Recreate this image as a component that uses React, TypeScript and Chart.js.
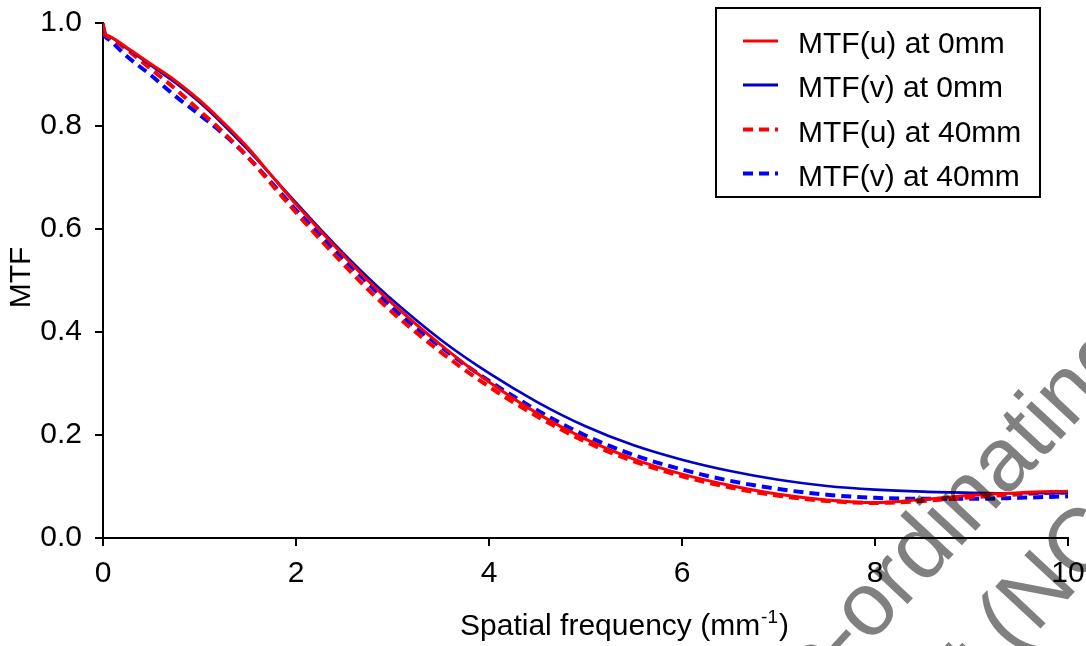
import React, { useEffect, useRef } from 'react';
import { Chart, registerables } from 'chart.js';

Chart.register(...registerables);

const FONT = "'Liberation Sans', Arial, sans-serif";

const frequencies = [0, 0.03, 0.06, 0.25, 0.5, 0.75, 1, 1.25, 1.5, 1.75, 2, 2.25, 2.5, 2.75, 3, 3.5, 4, 4.5, 5, 5.5, 6, 6.5, 7, 7.5, 8, 8.5, 9, 9.5, 10];

const mtfU0 = [1.0, 0.978, 0.975, 0.952, 0.92, 0.888, 0.85, 0.806, 0.758, 0.703, 0.648, 0.597, 0.547, 0.499, 0.455, 0.375, 0.303, 0.242, 0.192, 0.153, 0.124, 0.102, 0.085, 0.074, 0.069, 0.075, 0.083, 0.088, 0.091];
const mtfV0 = [1.0, 0.977, 0.974, 0.95, 0.917, 0.884, 0.846, 0.802, 0.754, 0.703, 0.651, 0.6, 0.551, 0.505, 0.462, 0.385, 0.32, 0.264, 0.217, 0.18, 0.152, 0.13, 0.113, 0.101, 0.094, 0.09, 0.088, 0.087, 0.087];
const mtfU40 = [0.98, 0.976, 0.973, 0.948, 0.91, 0.872, 0.83, 0.787, 0.74, 0.686, 0.632, 0.58, 0.53, 0.482, 0.438, 0.361, 0.294, 0.236, 0.187, 0.149, 0.12, 0.098, 0.082, 0.072, 0.068, 0.072, 0.079, 0.085, 0.089];
const mtfV40 = [0.98, 0.972, 0.968, 0.935, 0.898, 0.858, 0.822, 0.784, 0.74, 0.689, 0.637, 0.589, 0.54, 0.494, 0.447, 0.371, 0.305, 0.248, 0.199, 0.161, 0.133, 0.111, 0.095, 0.084, 0.078, 0.076, 0.076, 0.078, 0.081];

const seriesLabels = ['MTF(u) at 0mm', 'MTF(v) at 0mm', 'MTF(u) at 40mm', 'MTF(v) at 40mm'];
const seriesColors = ['#ff0000', '#0000c8', '#ff0000', '#0000ff'];
const seriesDashed = [false, false, true, true];
const seriesWidths = [3, 2.6, 4, 4];
const seriesValues = [mtfU0, mtfV0, mtfU40, mtfV40];

const xTitle = 'Spatial frequency (mm';
const xTitleSup = '-1';
const xTitleEnd = ')';
const yTitle = 'MTF';
const watermark1 = 'National Co-ordinating Centre for Health';
const watermark1Pre = 'National Co-';
const watermark2 = 'Technology Assessment (NCCHTA)';
const watermark2Pre = 'Technology Assessment ';

const DASH = [10, 6];

const decorPlugin = {
  id: 'decor',
  beforeDraw(chart: any) {
    const ctx = chart.ctx;
    ctx.save();
    ctx.fillStyle = '#ffffff';
    ctx.fillRect(0, 0, chart.width, chart.height);
    ctx.restore();
  },
  afterDraw(chart: any) {
    const ctx = chart.ctx as CanvasRenderingContext2D;
    // axis titles
    ctx.save();
    ctx.fillStyle = '#000';
    ctx.textBaseline = 'alphabetic';
    ctx.textAlign = 'left';
    ctx.font = `30px ${FONT}`;
    let x = 460;
    const by = 635;
    ctx.fillText(xTitle, x, by);
    x += ctx.measureText(xTitle).width;
    ctx.font = `19px ${FONT}`;
    ctx.fillText(xTitleSup, x + 1, by - 12);
    x += ctx.measureText(xTitleSup).width + 2;
    ctx.font = `30px ${FONT}`;
    ctx.fillText(xTitleEnd, x, by);
    ctx.restore();

    ctx.save();
    ctx.fillStyle = '#000';
    ctx.font = `30px ${FONT}`;
    ctx.translate(21.5, 277.5);
    ctx.rotate(-Math.PI / 2);
    ctx.textAlign = 'center';
    ctx.textBaseline = 'middle';
    ctx.fillText(yTitle, 0, 0);
    ctx.restore();

    // legend
    ctx.save();
    ctx.strokeStyle = '#000';
    ctx.lineWidth = 2;
    ctx.strokeRect(716, 8, 324, 189);
    const rows = [41, 85, 129.5, 173.5];
    for (let i = 0; i < seriesLabels.length; i++) {
      ctx.beginPath();
      ctx.strokeStyle = seriesColors[i];
      ctx.lineWidth = seriesDashed[i] ? 4 : 3;
      ctx.setLineDash(seriesDashed[i] ? DASH : []);
      ctx.moveTo(743, rows[i]);
      ctx.lineTo(778, rows[i]);
      ctx.stroke();
      ctx.setLineDash([]);
      ctx.fillStyle = '#000';
      ctx.font = `30px ${FONT}`;
      ctx.textAlign = 'left';
      ctx.textBaseline = 'alphabetic';
      ctx.fillText(seriesLabels[i], 798, rows[i] + 12);
    }
    ctx.restore();

    // watermark
    ctx.save();
    ctx.globalCompositeOperation = 'multiply';
    ctx.fillStyle = '#808080';
    ctx.font = `90px ${FONT}`;
    ctx.textAlign = 'left';
    ctx.textBaseline = 'alphabetic';
    const ang = (-47 * Math.PI) / 180;
    const ux = Math.cos(ang);
    const uy = Math.sin(ang);
    const w1 = ctx.measureText(watermark1Pre).width;
    ctx.save();
    ctx.translate(869 - w1 * ux, 645 - w1 * uy);
    ctx.rotate(ang);
    ctx.fillText(watermark1, 0, 0);
    ctx.restore();
    const w2 = ctx.measureText(watermark2Pre).width;
    ctx.save();
    ctx.translate(1015 - w2 * ux, 656 - w2 * uy);
    ctx.rotate(ang);
    ctx.fillText(watermark2, 0, 0);
    ctx.restore();
    ctx.restore();
  },
};

export default function App() {
  const canvasRef = useRef<HTMLCanvasElement | null>(null);

  useEffect(() => {
    if (!canvasRef.current) return;
    const chart = new Chart(canvasRef.current, {
      type: 'line',
      data: {
        datasets: seriesValues.map((vals, i) => ({
          label: seriesLabels[i],
          data: frequencies.map((f, j) => ({ x: f, y: vals[j] })),
          borderColor: seriesColors[i],
          backgroundColor: seriesColors[i],
          borderWidth: seriesWidths[i],
          borderDash: seriesDashed[i] ? DASH : [],
          pointRadius: 0,
          fill: false,
          cubicInterpolationMode: 'monotone' as const,
        })),
      },
      options: {
        animation: false,
        responsive: false,
        events: [],
        layout: { padding: { top: 23, right: 18, left: 0, bottom: 0 } },
        plugins: { legend: { display: false }, tooltip: { enabled: false } },
        scales: {
          x: {
            type: 'linear',
            min: 0,
            max: 10,
            ticks: { stepSize: 2, color: '#000', font: { size: 30, family: FONT }, padding: 10, maxRotation: 0 },
            grid: { drawOnChartArea: false, drawTicks: true, tickLength: 8, color: '#000', lineWidth: 2 },
            border: { display: true, color: '#000', width: 2 },
            afterFit: (s: any) => {
              s.height = 108;
              s.paddingLeft = 0;
              s.paddingRight = 0;
              s.paddingTop = 0;
              s.paddingBottom = 0;
            },
          },
          y: {
            type: 'linear',
            min: 0,
            max: 1,
            ticks: { stepSize: 0.2, color: '#000', font: { size: 30, family: FONT }, padding: 13, callback: (v: any) => Number(v).toFixed(1) },
            grid: { drawOnChartArea: false, drawTicks: true, tickLength: 8, color: '#000', lineWidth: 2 },
            border: { display: true, color: '#000', width: 2 },
            afterFit: (s: any) => {
              s.width = 103;
              s.paddingLeft = 0;
              s.paddingRight = 0;
              s.paddingTop = 0;
              s.paddingBottom = 0;
            },
          },
        },
      },
      plugins: [decorPlugin],
    });
    return () => chart.destroy();
  }, []);

  return (
    <div style={{ position: 'fixed', left: 0, top: 0, width: 1086, height: 646 }}>
      <canvas ref={canvasRef} width={1086} height={646} style={{ display: 'block' }} />
    </div>
  );
}
